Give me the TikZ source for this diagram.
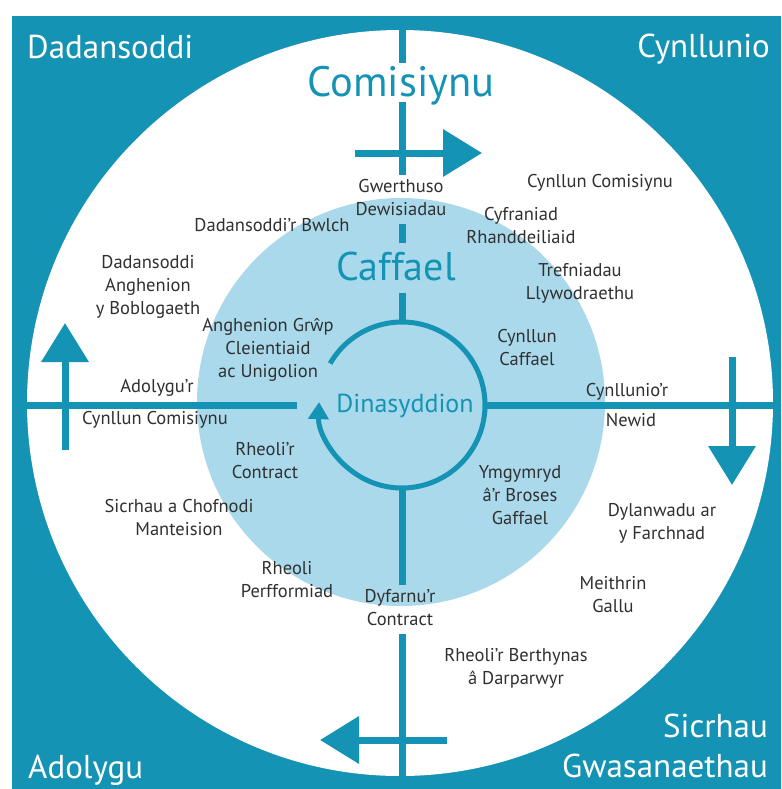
\documentclass[tikz,border=0pt]{standalone}
\usepackage{fontspec}
\setmainfont{PT Sans}
\newfontfamily\wfont{Open Sans}
\usetikzlibrary{arrows.meta,calc}
\definecolor{teal1}{RGB}{20,147,180}
\definecolor{lblue}{RGB}{170,217,235}
\definecolor{txtg}{RGB}{48,48,48}
\begin{document}
\begin{tikzpicture}[x=1pt,y=-1pt,
 lbl/.style={text=txtg,font=\fontsize{18.5}{23}\selectfont,align=center,inner sep=0pt},
 corner/.style={text=white,font=\fontsize{33}{40}\selectfont,inner sep=0pt},
 bigt/.style={text=teal1,inner sep=0pt},
 ln/.style={draw=teal1,line width=7pt},
 arr/.style={ln,-{Triangle[length=39pt,width=46pt]}},
 ringarc/.style={draw=teal1,line width=5pt,-{Triangle[length=17pt,width=20pt]}}]
\useasboundingbox (0,0) rectangle (781,789);
\fill[teal1] (12,16) rectangle (781,789);
\fill[white] (400,403) circle[radius=373pt];
\fill[lblue] (401,402) circle[radius=204pt];
\coordinate (c) at (402,405);
\coordinate (T) at (402,16);
\coordinate (B) at (402,789);
\coordinate (L) at (12,405);
\coordinate (R) at (781,405);
% corner labels
\node[corner,anchor=base west] (cTL) at (27,59) {Dadansoddi};
\node[corner,anchor=base east] (cTR) at (770,58) {Cynllunio};
\node[corner,anchor=base west] (cBL) at (28,778) {Adolygu};
\node[corner,anchor=south east,align=right] (cBR) at (768,778) {Sicrhau\\Gwasanaethau};
% big labels
\node[bigt,font=\fontsize{42.5}{48}\selectfont,anchor=base] (comm) at (401,97) {Comisiynu};
\node[bigt,font=\fontsize{40}{48}\selectfont,anchor=base] (caf) at (396,280) {Caffael};
\node[bigt,font=\fontsize{26}{30}\selectfont,anchor=base] (din) at (405,412) {Dinasyddion};
% small labels
\node[lbl] (gw) at (401,198) {Gwerthuso\\Dewisiadau};
\node[lbl] (bwlch) at (272,225) {Dadansoddi’r Bwlch};
\node[lbl] (pop) at (148,287) {Dadansoddi\\Anghenion\\y Boblogaeth};
\node[lbl] (grp) at (268,350) {Anghenion Gr{\wfont\fontsize{17}{23}\selectfont ŵ}p\\Cleientiaid\\ac Unigolion};
\node[lbl] (cc) at (600,183) {Cynllun Comisiynu};
\node[lbl] (rhan) at (521,226) {Cyfraniad\\Rhanddeiliaid};
\node[lbl] (tref) at (580,283) {Trefniadau\\Llywodraethu};
\node[lbl] (ccaf) at (527,348) {Cynllun\\Caffael};
\node[lbl] (cnew1) at (627,392) {Cynllunio’r};
\node[lbl] (cnew2) at (631,420) {Newid};
\node[lbl] (adol1) at (157,388) {Adolygu’r};
\node[lbl] (adol2) at (155,420) {Cynllun Comisiynu};
\node[lbl] (rcon) at (265,461) {Rheoli’r\\Contract};
\node[lbl] (sich) at (179,518) {Sicrhau a Chofnodi\\Manteision};
\node[lbl] (rperf) at (287,580) {Rheoli\\Perfformiad};
\node[lbl] (dyf) at (400,608) {Dyfarnu’r\\Contract};
\node[lbl] (ymg) at (520,495) {Ymgymryd\\â’r Broses\\Gaffael};
\node[lbl] (dyl) at (662,523) {Dylanwadu ar\\y Farchnad};
\node[lbl] (meith) at (613,595) {Meithrin\\Gallu};
\node[lbl] (berth) at (516,668) {Rheoli’r Berthynas\\â Darparwyr};
% cross lines
\draw[ln] (T) -- ($(T |- comm.north)+(0,-4)$);
\draw[ln] ($(T |- comm.base)+(0,5)$) -- ($(T |- gw.north)+(0,-5)$);
\draw[ln] ($(T |- gw.south)+(0,8)$) -- ($(T |- caf.north)+(0,-8)$);
\draw[ln] ($(T |- caf.south)+(0,12)$) -- ($(c)+(0,-83)$);
\draw[ln] ($(c)+(0,83)$) -- ($(T |- dyf.north)+(0,-5)$);
\draw[ln] ($(T |- dyf.south)+(0,8)$) -- (B);
\draw[ln] (L) -- ($(c)+(-105,0)$);
\draw[ln] ($(c)+(83,0)$) -- (R);
% ring
\draw[ringarc] ($(c)+(150:83pt)$) arc[start angle=150,end angle=-182,radius=83pt];
% arrows
\coordinate (ta1) at (355,153); \coordinate (ta2) at (482,153);
\coordinate (la1) at (65,450); \coordinate (la2) at (65,323);
\coordinate (ra1) at (732,357); \coordinate (ra2) at (732,485);
\coordinate (ba1) at (447,740); \coordinate (ba2) at (320,740);
\draw[arr] (ta1) -- (ta2);
\draw[arr] (la1) -- (la2);
\draw[arr] (ra1) -- (ra2);
\draw[arr] (ba1) -- (ba2);
\end{tikzpicture}
\end{document}
